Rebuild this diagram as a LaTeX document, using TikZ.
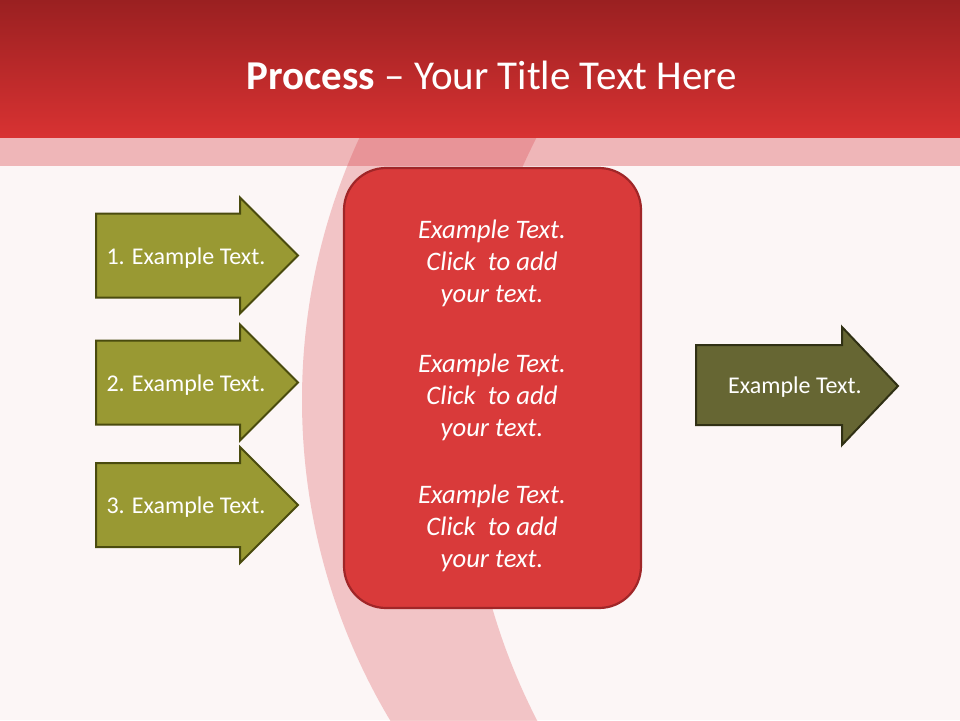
\documentclass[tikz,border=0pt]{standalone}
\usepackage{fontspec}
\setmainfont{Carlito}
\usepackage{tikz}
\usetikzlibrary{calc, positioning}
\definecolor{pagebg}{RGB}{252,246,246}
\definecolor{headtop}{RGB}{154,32,33}
\definecolor{headbottom}{RGB}{216,50,50}
\definecolor{ribbonred}{RGB}{214,48,56}
\definecolor{panelred}{RGB}{217,58,58}
\definecolor{paneledge}{RGB}{160,38,40}
\definecolor{olivefill}{RGB}{153,153,51}
\definecolor{oliveedge}{RGB}{74,75,14}
\definecolor{darkolive}{RGB}{102,102,51}
\definecolor{darkoliveedge}{RGB}{48,48,20}

\begin{document}
\begin{tikzpicture}[x=1pt, y=-1pt,
    stepshape/.style={fill=olivefill, draw=oliveedge, line width=2pt, line join=miter},
    resultshape/.style={fill=darkolive, draw=darkoliveedge, line width=2pt, line join=miter},
    steplabel/.style={anchor=base, text=white, font=\fontsize{24}{29}\selectfont},
    panel/.style={fill=panelred, draw=paneledge, line width=2.2pt, rounded corners=42pt,
        minimum width=297pt, minimum height=440pt},
    paneltext/.style={text=white, align=center, font=\fontsize{26.7}{32}\selectfont\itshape}]
    \useasboundingbox (0,0) rectangle (960,720);
    \fill[pagebg] (0,0) rectangle (960,720);

    % Curved ribbon behind the panel
    \begin{scope}
        \clip (0,0) rectangle (960,720);
        \fill[ribbonred, opacity=0.25, even odd rule]
            (927.7,400) circle[radius=625.7pt] (1106,428.5) circle[radius=639.3pt];
    \end{scope}

    % Header
    \fill[ribbonred, opacity=0.32] (0,137) rectangle (960,166);
    \shade[top color=headtop, bottom color=headbottom] (0,0) rectangle (960,137);
    \node[anchor=base, text=white, font=\fontsize{41}{48}\selectfont] (title) at (492,89)
        {\textbf{Process} -- Your Title Text Here};

    % Centre panel
    \node[panel] (panel) at (492.5,388) {};
    \foreach \y [count=\i] in {263,397,528} {
        \node[paneltext] (note\i) at (492,\y) {Example Text.\\Click\ \ to add\\your text.};
    }

    % Input arrows
    \foreach \y [count=\i] in {255.5,382.5,505} {
        \draw[stepshape] (96,\y-42) -- (240,\y-42) -- (240,\y-58) -- (298,\y)
            -- (240,\y+58) -- (240,\y+42) -- (96,\y+42) -- cycle;
        \node[steplabel] (step\i) at (186,\y+8.5) {\i. Example Text.};
    }

    % Output arrow
    \draw[resultshape] (696,345) -- (842,345) -- (842,327) -- (898,386)
        -- (842,445) -- (842,425) -- (696,425) -- cycle;
    \node[steplabel] (result) at (795,393.5) {Example Text.};
\end{tikzpicture}
\end{document}
